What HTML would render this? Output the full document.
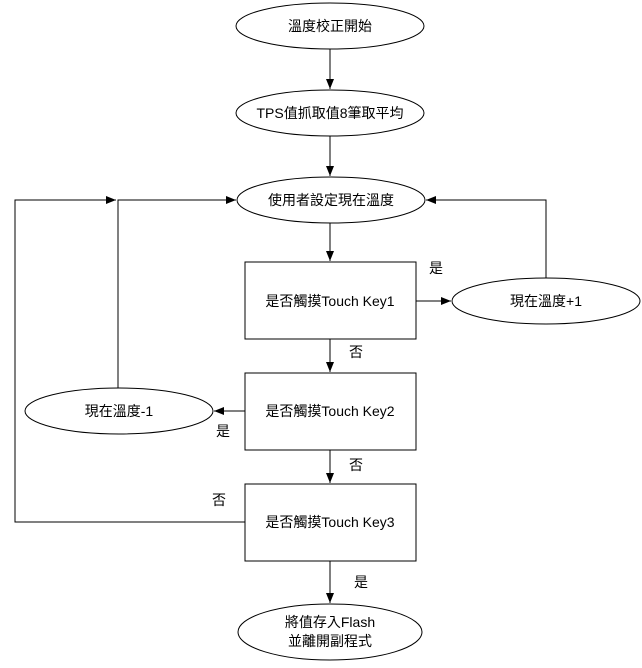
<!DOCTYPE html>
<html><head><meta charset="utf-8"><style>
body{margin:0;background:#fff}
svg text{font-family:"Liberation Sans","Noto Sans CJK TC",sans-serif;font-size:14px;fill:#000}
</style></head><body>
<svg width="642" height="663" viewBox="0 0 642 663" xmlns="http://www.w3.org/2000/svg">
<defs><marker id="a" markerWidth="10" markerHeight="8" refX="10" refY="4" orient="auto" markerUnits="userSpaceOnUse"><path d="M0,0L10,4L0,8z" fill="#000"/></marker></defs>
<g fill="none" stroke="#000" stroke-width="1">
<ellipse cx="330" cy="26" rx="94" ry="23"/>
<ellipse cx="330" cy="113" rx="94" ry="23"/>
<ellipse cx="331" cy="200" rx="94" ry="23"/>
<rect x="245" y="262" width="171" height="77"/>
<rect x="245" y="373" width="171" height="77"/>
<rect x="245" y="484" width="171" height="77"/>
<ellipse cx="546" cy="301" rx="94" ry="23"/>
<ellipse cx="119" cy="411" rx="94" ry="23"/>
<ellipse cx="330" cy="632" rx="92" ry="28"/>
<path d="M330 49V89" marker-end="url(#a)"/>
<path d="M330 136V176" marker-end="url(#a)"/>
<path d="M330 223V261" marker-end="url(#a)"/>
<path d="M330 339V372" marker-end="url(#a)"/>
<path d="M330 450V483" marker-end="url(#a)"/>
<path d="M330 561V603" marker-end="url(#a)"/>
<path d="M416 301H451" marker-end="url(#a)"/>
<path d="M546 278V200H426" marker-end="url(#a)"/>
<path d="M245 411H214" marker-end="url(#a)"/>
<path d="M118 388V200H236" marker-end="url(#a)"/>
<path d="M245 522H15V200H116" marker-end="url(#a)"/>
</g>
<g text-anchor="middle">
<text x="330" y="31">溫度校正開始</text>
<text x="330" y="118">TPS值抓取值8筆取平均</text>
<text x="331" y="205">使用者設定現在溫度</text>
<text x="330" y="306">是否觸摸Touch Key1</text>
<text x="330" y="416">是否觸摸Touch Key2</text>
<text x="330" y="527">是否觸摸Touch Key3</text>
<text x="546" y="306">現在溫度+1</text>
<text x="119" y="416">現在溫度-1</text>
<text x="330" y="627">將值存入Flash</text>
<text x="330" y="646">並離開副程式</text>
<text x="436" y="273">是</text>
<text x="356" y="357">否</text>
<text x="223" y="436">是</text>
<text x="356" y="470">否</text>
<text x="219" y="505">否</text>
<text x="361" y="587">是</text>
</g>
</svg>
</body></html>
